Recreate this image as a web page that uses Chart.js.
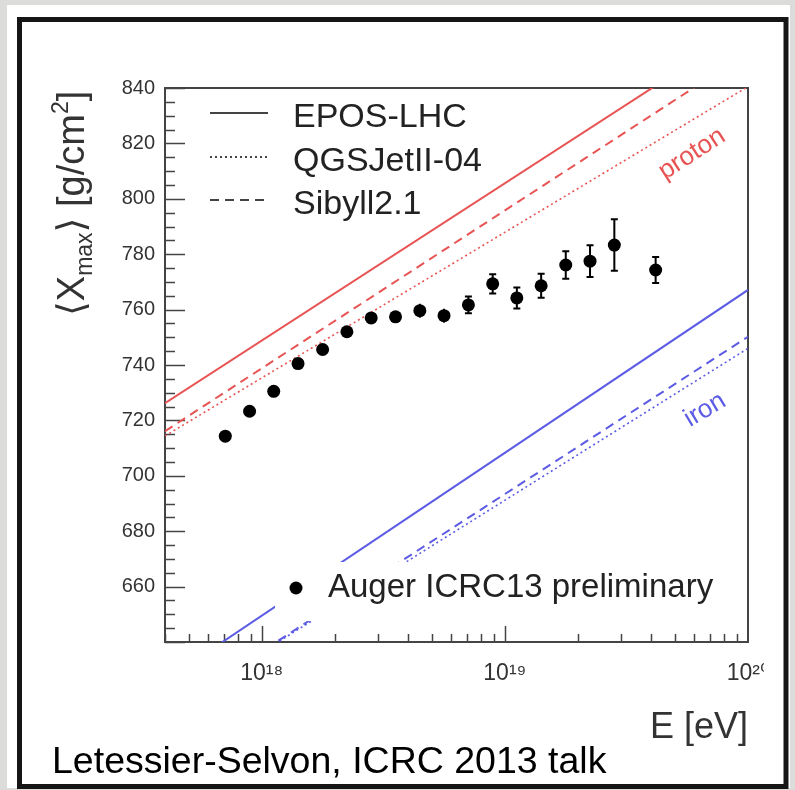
<!DOCTYPE html>
<html><head><meta charset="utf-8">
<script src="https://cdn.jsdelivr.net/npm/chart.js@4.4.0/dist/chart.umd.min.js"></script>
<style>html,body{margin:0;padding:0;background:#dcdcda;overflow:hidden;}canvas{display:block;}</style>
</head><body>
<canvas id="c" width="795" height="790"></canvas>
<script>
// ---- data ----
const energyEV = [7.08e17, 8.91e17, 1.12e18, 1.41e18, 1.78e18, 2.24e18, 2.82e18, 3.55e18, 4.47e18,
                  5.62e18, 7.08e18, 8.91e18, 1.12e19, 1.41e19, 1.78e19, 2.24e19, 2.82e19, 4.17e19];
const xmaxMean = [714.3, 723.3, 730.5, 740.5, 745.6, 752.0, 757.0, 757.4, 759.6,
                  757.8, 761.7, 769.3, 764.2, 768.6, 776.1, 777.5, 783.3, 774.3];
const xmaxErr  = [1.0, 1.0, 1.0, 1.2, 1.2, 1.5, 1.5, 2.0, 2.5,
                  2.5, 3.0, 3.5, 3.8, 4.3, 5.0, 5.7, 9.3, 4.7];
const modelEnergy  = [4e17, 1e20];
const protonEPOS   = [726.2, 862.4];
const protonQGSJet = [714.4, 840.5];
const protonSibyll = [716.1, 852.8];
const ironEPOS     = [626.1, 767.1];
const ironQGSJet   = [614.5, 746.0];
const ironSibyll   = [614.0, 750.2];
const yTickValues  = [660, 680, 700, 720, 740, 760, 780, 800, 820, 840];
const xTickValues  = [1e18, 1e19, 1e20];
const xTickLabels  = ['10\u00B9\u2078', '10\u00B9\u2079', '10\u00B2\u2070'];
const modelNames   = ['EPOS-LHC', 'QGSJetII-04', 'Sibyll2.1'];
const dataLabel    = 'Auger ICRC13 preliminary';

const FONT = "'Liberation Sans', Arial, Helvetica, 'DejaVu Sans', sans-serif";
const RED = 'rgb(232,84,84)';
const BLUE = 'rgb(92,92,228)';
const DASH = [9, 6];
const DOT = [2, 3];

function pts(xs, ys) { return xs.map((v, i) => ({x: v, y: ys[i]})); }
function modelSet(vals, color, dash, w) {
  return {data: pts(modelEnergy, vals), showLine: true, pointRadius: 0, borderColor: color,
          borderWidth: w, borderDash: dash, fill: false};
}

const deco = {
  id: 'deco',
  beforeDraw(chart) {
    const c = chart.ctx; c.save();
    c.fillStyle = '#dcdcda'; c.fillRect(0, 0, 795, 790);
    c.fillStyle = '#ffffff'; c.fillRect(7, 5, 783, 783);
    c.restore();
  },
  beforeDatasetsDraw(chart) {
    const {ctx: c, chartArea: a, scales: {x, y}} = chart;
    c.save();
    c.strokeStyle = '#444'; c.lineWidth = 2;
    c.strokeRect(a.left, a.top, a.right - a.left, a.bottom - a.top);
    c.lineWidth = 1.5;
    c.beginPath();
    for (let v = 640; v <= 840; v += 5) {
      const py = Math.round(y.getPixelForValue(v)) + 0.5;
      const len = v % 20 === 0 ? 20 : 10;
      c.moveTo(a.left, py); c.lineTo(a.left + len, py);
    }
    for (let d = 17; d <= 19; d++) for (let k = 1; k <= 9; k++) {
      const v = k * Math.pow(10, d);
      if (v < 4e17 || v > 1e20) continue;
      const px = Math.round(x.getPixelForValue(v)) + 0.5;
      const len = k === 1 ? 16 : 8;
      c.moveTo(px, a.bottom); c.lineTo(px, a.bottom - len);
    }
    c.stroke();
    c.restore();
  },
  afterDatasetsDraw(chart) {
    const {ctx: c, scales: {x, y}} = chart;
    c.save();
    // error bars
    c.strokeStyle = '#000'; c.lineWidth = 2;
    energyEV.forEach((e, i) => {
      const px = x.getPixelForValue(e);
      const y1 = y.getPixelForValue(xmaxMean[i] + xmaxErr[i]);
      const y2 = y.getPixelForValue(xmaxMean[i] - xmaxErr[i]);
      c.beginPath(); c.moveTo(px, y1); c.lineTo(px, y2);
      if (y2 - y1 > 14) { c.moveTo(px - 3.5, y1); c.lineTo(px + 3.5, y1); c.moveTo(px - 3.5, y2); c.lineTo(px + 3.5, y2); }
      c.stroke();
    });
    // data legend box (hides model lines)
    c.fillStyle = '#fff'; c.fillRect(275, 562, 460, 59);
    c.fillStyle = '#000';
    c.beginPath(); c.arc(296, 588, 6.5, 0, Math.PI * 2); c.fill();
    c.fillStyle = '#222'; c.font = '33px ' + FONT; c.textBaseline = 'alphabetic'; c.textAlign = 'left';
    c.fillText(dataLabel, 328, 597);
    // model legend
    const rows = [113, 157, 200];
    const dashes = [[], DOT, DASH];
    c.strokeStyle = '#444'; c.lineWidth = 2;
    rows.forEach((ry, i) => {
      c.setLineDash(dashes[i]);
      c.beginPath(); c.moveTo(210, ry); c.lineTo(268, ry); c.stroke();
    });
    c.setLineDash([]);
    c.font = '34px ' + FONT; c.fillStyle = '#222';
    rows.forEach((ry, i) => c.fillText(modelNames[i], 293, ry + 14));
    // composition labels
    c.font = '26px ' + FONT; c.textAlign = 'center'; c.textBaseline = 'middle';
    c.save(); c.translate(692, 154); c.rotate(-33 * Math.PI / 180); c.fillStyle = RED; c.fillText('proton', 0, 0); c.restore();
    c.save(); c.translate(705, 410); c.rotate(-31 * Math.PI / 180); c.fillStyle = BLUE; c.fillText('iron', 0, 0); c.restore();
    c.restore();
  },
  afterDraw(chart) {
    const c = chart.ctx; c.save();
    // y-axis title with sub/superscripts
    c.translate(84, 316); c.rotate(-Math.PI / 2);
    c.fillStyle = '#333'; c.textBaseline = 'alphabetic'; c.textAlign = 'left';
    let xx = 0;
    const put = (t, size, dy) => { c.font = size + 'px ' + FONT; c.fillText(t, xx, dy); xx += c.measureText(t).width; };
    put('\u27E8X', 38, 0); put('max', 23, 8); put('\u27E9 [g/cm', 38, 0); put('2', 23, -16); put(']', 38, 0);
    c.restore();
    c.save();
    // crop of the embedded figure at its right edge
    c.fillStyle = '#fff'; c.fillRect(764, 646, 20, 60);
    // caption
    c.fillStyle = '#000'; c.font = '37.5px ' + FONT; c.textBaseline = 'alphabetic'; c.textAlign = 'left';
    c.fillText('Letessier-Selvon, ICRC 2013 talk', 52, 773);
    // slide frame
    c.strokeStyle = '#151515'; c.lineWidth = 5;
    c.strokeRect(19.5, 19.5, 766.5, 767);
    c.restore();
  }
};

new Chart(document.getElementById('c'), {
  type: 'scatter',
  data: {
    datasets: [
      {data: pts(energyEV, xmaxMean), pointRadius: 6.5, pointBackgroundColor: '#000', pointBorderColor: '#000', pointBorderWidth: 0, showLine: false},
      modelSet(protonEPOS, RED, [], 2),
      modelSet(protonQGSJet, RED, DOT, 1.6),
      modelSet(protonSibyll, RED, DASH, 2),
      modelSet(ironEPOS, BLUE, [], 2),
      modelSet(ironQGSJet, BLUE, DOT, 1.6),
      modelSet(ironSibyll, BLUE, DASH, 2)
    ]
  },
  options: {
    responsive: false, animation: false, devicePixelRatio: 1,
    layout: {padding: {left: 0, top: 88, right: 47, bottom: 0}},
    plugins: {legend: {display: false}, tooltip: {enabled: false}},
    events: [],
    scales: {
      x: {
        type: 'logarithmic', min: 4e17, max: 1e20,
        afterFit(s) { s.height = 148; },
        afterBuildTicks(s) { s.ticks = xTickValues.map(v => ({value: v})); },
        grid: {display: false, drawTicks: false},
        border: {display: true, color: '#444', width: 2},
        ticks: {padding: 18, autoSkip: false, maxRotation: 0, color: '#333',
                font: {size: 23, family: FONT},
                callback: (v, i) => xTickLabels[i]},
        title: {display: true, text: 'E [eV]', align: 'end', color: '#333',
                font: {size: 36, family: FONT}, padding: {top: 0, bottom: 40}}
      },
      y: {
        type: 'linear', min: 640, max: 840,
        afterFit(s) { s.width = 165; },
        afterBuildTicks(s) { s.ticks = yTickValues.map(v => ({value: v})); },
        grid: {display: false, drawTicks: false},
        border: {display: true, color: '#444', width: 2},
        ticks: {padding: 10, color: '#333', font: {size: 20, family: FONT}}
      }
    }
  },
  plugins: [deco]
});
</script>
</body></html>
